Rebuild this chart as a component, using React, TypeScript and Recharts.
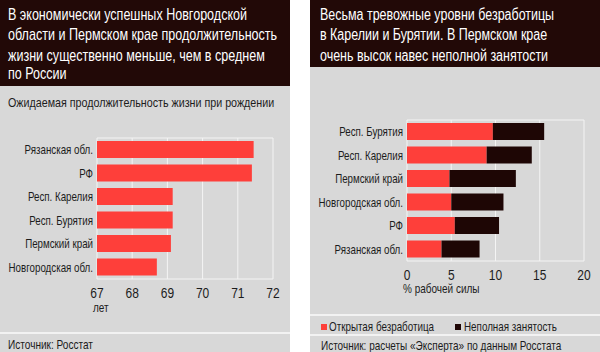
import { BarChart, Bar, XAxis, YAxis, CartesianGrid } from "recharts";

// left panel: life expectancy at birth, years
const lifeRegions = ["Рязанская обл.", "РФ", "Респ. Карелия", "Респ. Бурятия", "Пермский край", "Новгородская обл."];
const lifeYears = [71.45, 71.4, 69.15, 69.15, 69.1, 68.7];
const lifeTicks = [67, 68, 69, 70, 71, 72];

// right panel: % of labour force
const jobRegions = ["Респ. Бурятия", "Респ. Карелия", "Пермский край", "Новгородская обл.", "РФ", "Рязанская обл."];
const openUnemployment = [9.7, 9.0, 4.8, 5.0, 5.4, 3.9];
const partialEmployment = [5.8, 5.1, 7.5, 5.9, 5.0, 4.3];
const jobTicks = [0, 5, 10, 15, 20];

const FONT = '"Liberation Sans", Arial, sans-serif';
const SX = 0.8; // the original uses a condensed face, squeeze Arial-like text
const RED = "#fe3f3a";
const DARK = "#1e0605";
const HEADER = "#220907";
const GRAY = "#d8d8d8";
const GRID = "#f4f4f4";
const INK = "#1c1c1c";

const frameLines = ({ offset }: any) => [offset.top, offset.top + offset.height];

function T({ x, y, size, fill = INK, anchor = "start", children }: any) {
  return (
    <text
      transform={`translate(${x} ${y}) scale(${SX} 1)`}
      fontSize={size}
      fill={fill}
      fontFamily={FONT}
      textAnchor={anchor}
    >
      {children}
    </text>
  );
}

function CategoryTick({ x, y, payload }: any) {
  return (
    <T x={x} y={y + 4.5} size={12.2} anchor="end">
      {payload.value}
    </T>
  );
}

function NumberTick({ x, y, payload }: any) {
  return (
    <T x={x} y={y + 14.5} size={15} anchor="middle">
      {payload.value}
    </T>
  );
}

export default function App() {
  const lifeData = lifeRegions.map((region, i) => ({ region, years: lifeYears[i] }));
  const jobData = jobRegions.map((region, i) => ({
    region,
    open: openUnemployment[i],
    partial: partialEmployment[i],
  }));

  return (
    <div style={{ position: "absolute", left: 0, top: 0, width: 600, height: 352, background: "#fff", overflow: "hidden" }}>
      {/* backgrounds */}
      <div style={{ position: "absolute", left: 0, top: 0, width: 290, height: 352, background: GRAY }} />
      <div style={{ position: "absolute", left: 0, top: 0, width: 290, height: 86, background: HEADER }} />
      <div style={{ position: "absolute", left: 0, top: 332, width: 290, height: 2, background: "#f2f2f2" }} />
      <div style={{ position: "absolute", left: 310, top: 0, width: 290, height: 352, background: GRAY }} />
      <div style={{ position: "absolute", left: 310, top: 0, width: 290, height: 67, background: HEADER }} />
      <div style={{ position: "absolute", left: 310, top: 314, width: 290, height: 2, background: "#f2f2f2" }} />
      <div style={{ position: "absolute", left: 310, top: 334, width: 290, height: 2, background: "#f2f2f2" }} />
      <div style={{ position: "absolute", left: 321, top: 324, width: 6, height: 6, background: RED }} />
      <div style={{ position: "absolute", left: 455, top: 324, width: 6, height: 6, background: DARK }} />

      <div style={{ position: "absolute", left: 0, top: 130 }}>
        <BarChart
          width={290}
          height={179}
          data={lifeData}
          layout="vertical"
          margin={{ top: 8, right: 17, bottom: 0, left: 0 }}
          barSize={17}
        >
          <CartesianGrid stroke={GRID} horizontalCoordinatesGenerator={frameLines} />
          <XAxis
            type="number"
            domain={[67, 72]}
            ticks={lifeTicks}
            height={30}
            axisLine={false}
            tickLine={false}
            tickSize={0}
            tickMargin={4}
            tick={<NumberTick />}
          />
          <YAxis
            type="category"
            dataKey="region"
            width={97}
            axisLine={false}
            tickLine={false}
            tickSize={0}
            tickMargin={4}
            tick={<CategoryTick />}
          />
          <Bar dataKey="years" fill={RED} isAnimationActive={false} />
        </BarChart>
      </div>

      <div style={{ position: "absolute", left: 310, top: 112 }}>
        <BarChart
          width={290}
          height={179}
          data={jobData}
          layout="vertical"
          margin={{ top: 8, right: 16, bottom: 0, left: 0 }}
          barSize={17}
        >
          <CartesianGrid stroke={GRID} horizontalCoordinatesGenerator={frameLines} />
          <XAxis
            type="number"
            domain={[0, 20]}
            ticks={jobTicks}
            height={30}
            axisLine={false}
            tickLine={false}
            tickSize={0}
            tickMargin={4}
            tick={<NumberTick />}
          />
          <YAxis
            type="category"
            dataKey="region"
            width={97}
            axisLine={false}
            tickLine={false}
            tickSize={0}
            tickMargin={4}
            tick={<CategoryTick />}
          />
          <Bar dataKey="open" stackId="a" fill={RED} isAnimationActive={false} />
          <Bar dataKey="partial" stackId="a" fill={DARK} isAnimationActive={false} />
        </BarChart>
      </div>

      {/* titles, notes, legend */}
      <svg width={600} height={352} style={{ position: "absolute", left: 0, top: 0, pointerEvents: "none" }}>
        <T x={8} y={19.5} size={15.7} fill="#fff">В экономически успешных Новгородской</T>
        <T x={8} y={40} size={15.7} fill="#fff">области и Пермском крае продолжительность</T>
        <T x={8} y={60.5} size={15.7} fill="#fff">жизни существенно меньше, чем в среднем</T>
        <T x={8} y={79} size={15.7} fill="#fff">по России</T>
        <T x={8} y={106.5} size={13.4}>Ожидаемая продолжительность жизни при рождении</T>
        <T x={93} y={312} size={12.5}>лет</T>
        <T x={8} y={349} size={12.6}>Источник: Росстат</T>

        <T x={320} y={19.5} size={15.6} fill="#fff">Весьма тревожные уровни безработицы</T>
        <T x={320} y={40} size={15.6} fill="#fff">в Карелии и Бурятии. В Пермском крае</T>
        <T x={320} y={60.5} size={15.6} fill="#fff">очень высок навес неполной занятости</T>
        <T x={403} y={293} size={12.5}>% рабочей силы</T>
        <T x={329} y={331} size={12.3}>Открытая безработица</T>
        <T x={464} y={331} size={12.3}>Неполная занятость</T>
        <T x={321} y={350} size={12.5}>Источник: расчеты «Эксперта» по данным Росстата</T>
      </svg>
    </div>
  );
}
